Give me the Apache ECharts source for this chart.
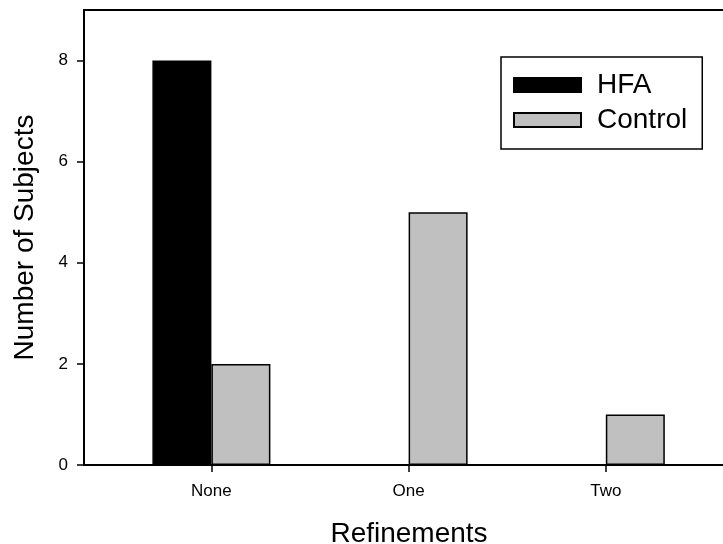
<!DOCTYPE html>
<html>
<head>
<meta charset="utf-8">
<script src="https://cdn.jsdelivr.net/npm/echarts@6/dist/echarts.min.js"></script>
<style>
html,body{margin:0;padding:0;background:#fff;}
#chart{width:723px;height:544px;}
</style>
</head>
<body>
<div id="chart"></div>
<script>
var categories = ['None', 'One', 'Two'];
var hfaValues = [8, 0, 0];
var controlValues = [2, 5, 1];
var yTicks = [0, 2, 4, 6, 8];
var xTicks = [0, 1, 2];

var FONT = '"Liberation Sans", Arial, sans-serif';

function pairs(vals) {
  return vals.map(function (v, i) { return [i, v]; });
}

var chart = echarts.init(document.getElementById('chart'), null, {renderer: 'canvas'});
chart.setOption({
  animation: false,
  backgroundColor: '#ffffff',
  grid: {
    left: 84, top: 10, bottom: 79, right: -11,
    outerBoundsMode: 'none',
    containLabel: false,
    show: true, borderColor: '#000', borderWidth: 2, backgroundColor: 'transparent'
  },
  legend: {
    orient: 'vertical',
    left: 501, top: 57,
    align: 'left',
    icon: 'rect',
    itemWidth: 67, itemHeight: 14,
    itemGap: 5,
    padding: [13, 15, 14, 12],
    borderColor: '#000', borderWidth: 1.5,
    textStyle: {fontFamily: FONT, fontSize: 28, color: '#000', lineHeight: 30, padding: [0, 0, 0, 11]},
    data: ['HFA', 'Control']
  },
  xAxis: {
    type: 'value',
    min: -0.646, max: 2.65,
    name: 'Refinements',
    nameLocation: 'middle',
    nameGap: 55,
    nameTextStyle: {fontFamily: FONT, fontSize: 28, color: '#000'},
    axisLine: {show: true, onZero: false, lineStyle: {color: '#000', width: 2}},
    axisTick: {show: true, length: 7, lineStyle: {color: '#000', width: 1.5}, customValues: xTicks},
    axisLabel: {
      customValues: xTicks,
      margin: 18,
      fontFamily: FONT, fontSize: 17, color: '#000',
      formatter: function (v) { return categories[Math.round(v)] || ''; }
    },
    splitLine: {show: false}
  },
  yAxis: {
    type: 'value',
    min: 0, max: 9,
    name: 'Number of Subjects',
    nameLocation: 'middle',
    nameGap: 45,
    nameTextStyle: {fontFamily: FONT, fontSize: 28, color: '#000'},
    axisLine: {show: true, onZero: false, lineStyle: {color: '#000', width: 2}},
    axisTick: {show: true, length: 7, lineStyle: {color: '#000', width: 1.5}, customValues: yTicks},
    axisLabel: {
      customValues: yTicks,
      margin: 16,
      fontFamily: FONT, fontSize: 17, color: '#000'
    },
    splitLine: {show: false}
  },
  series: [
    {
      name: 'HFA', type: 'bar',
      data: pairs(hfaValues),
      barWidth: 59, barGap: '0%',
      itemStyle: {color: '#000000', borderColor: '#000', borderWidth: 1.5}
    },
    {
      name: 'Control', type: 'bar',
      data: pairs(controlValues),
      barWidth: 59, barGap: '0%',
      itemStyle: {color: '#c0c0c0', borderColor: '#000', borderWidth: 1.5}
    }
  ]
});
</script>
</body>
</html>
